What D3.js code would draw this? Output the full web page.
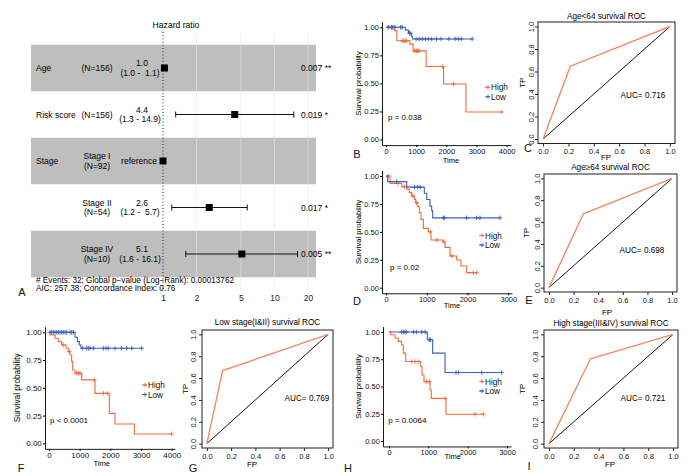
<!DOCTYPE html>
<html><head><meta charset="utf-8">
<script src="https://cdn.jsdelivr.net/npm/d3@7"></script>
<style>body{margin:0;background:#fff}svg{display:block}text{font-family:"Liberation Sans",Arial,sans-serif}</style>
</head><body><svg id="c" width="700" height="476"></svg>
<script>
// ================= DATA =================
// Forest plot (panel A)
const forestVars   = ["Age", "Risk score", "Stage", "", ""];
const forestGroups = [["(N=156)"], ["(N=156)"], ["Stage I", "(N=92)"], ["Stage II", "(N=54)"], ["Stage IV", "(N=10)"]];
const forestHR     = [1.03, 4.4, 1, 2.6, 5.1];
const forestLo     = [1.01, 1.3, null, 1.2, 1.6];
const forestHi     = [1.06, 14.9, null, 5.7, 16.1];
const forestEst    = ["1.0", "4.4", "reference", "2.6", "5.1"];
const forestCI     = ["(1.0 -  1.1)", "(1.3 - 14.9)", "", "(1.2 -  5.7)", "(1.6 - 16.1)"];
const forestP      = ["0.007 **", "0.019 *", "", "0.017 *", "0.005 **"];
const forestTicks  = [1, 2, 5, 10, 20];
const forestNotes  = ["# Events: 32; Global p\u2212value (Log\u2212Rank): 0.00013762", "AIC: 257.38; Concordance Index: 0.76"];

// Kaplan-Meier curves: step times, survival, censor times
const kmB_highT = [0, 278, 361, 794, 897, 1330, 1907, 2650];
const kmB_highS = [1, 0.97, 0.88, 0.85, 0.79, 0.65, 0.494, 0.245];
const kmB_highC = [100, 200, 536, 590, 640, 690, 950, 1000, 1030, 1060, 1100, 1876, 2237, 3835];
const kmB_lowT  = [0, 640, 745, 850, 880];
const kmB_lowS  = [1, 0.975, 0.947, 0.92, 0.896];
const kmB_lowC  = [72, 175, 227, 300, 485, 536, 780, 800, 1000, 1103, 1206, 1309, 1412, 1515, 1670, 1825, 2082, 2289, 2392, 2495, 2856];

const kmD_highT = [0, 98, 384, 507, 572, 630, 695, 728, 777, 818, 859, 916, 1038, 1104, 1390, 1447, 1570, 1733, 1840, 1979];
const kmD_highS = [1, 0.934, 0.904, 0.881, 0.851, 0.821, 0.791, 0.761, 0.725, 0.672, 0.612, 0.531, 0.501, 0.427, 0.412, 0.361, 0.284, 0.248, 0.194, 0.135];
const kmD_highC = [57, 300, 450, 660, 750, 1080, 1250, 1420, 1620, 2142, 2224];
const kmD_lowT  = [0, 40, 507, 940, 1000, 1079, 1120, 1145];
const kmD_lowS  = [1, 0.95, 0.9, 0.845, 0.79, 0.73, 0.69, 0.625];
const kmD_lowC  = [260, 700, 780, 840, 1406, 1431, 1979, 2224, 2306, 2796];

const kmF_highT = [0, 33, 196, 304, 413, 554, 630, 685, 739, 772, 848, 1065, 1500, 1967, 2152, 2783];
const kmF_highS = [1, 0.976, 0.946, 0.916, 0.886, 0.856, 0.826, 0.796, 0.736, 0.661, 0.631, 0.571, 0.45, 0.27, 0.174, 0.084];
const kmF_highC = [467, 660, 902, 960, 1011, 1480, 1772, 1902, 4000];
const kmF_lowT  = [0, 848, 924, 989, 1043];
const kmF_lowS  = [1, 0.955, 0.916, 0.886, 0.856];
const kmF_lowC  = [33, 87, 141, 196, 250, 304, 359, 413, 467, 522, 576, 685, 739, 793, 1098, 1228, 1283, 1337, 1446, 1772, 1859, 1935, 2152, 2370, 2533, 2696, 3022];

const kmH_highT = [0, 42, 153, 237, 322, 364, 424, 805, 839, 890, 1042, 1076, 1449];
const kmH_highS = [1, 0.975, 0.945, 0.914, 0.883, 0.806, 0.729, 0.683, 0.606, 0.545, 0.468, 0.391, 0.246];
const kmH_highC = [576, 661, 746, 958, 1025, 1424, 2186, 2398];
const kmH_lowT  = [0, 975, 1110, 1424];
const kmH_lowS  = [1, 0.929, 0.806, 0.628];
const kmH_lowC  = [322, 364, 407, 449, 619, 703, 831, 915, 1025, 1059, 1703, 1763, 2356, 2864];

const kmGroups  = ["High", "Low"];
const kmPvals   = ["p = 0.038", "p = 0.02", "p < 0.0001", "p = 0.0064"];
const kmYTicks  = [0, 0.25, 0.5, 0.75, 1];
const kmXTicks4 = [0, 1000, 2000, 3000, 4000];
const kmXTicks3 = [0, 1000, 2000, 3000];

// ROC curves
const rocTitles = ["Age<64 survival ROC", "Age\u226564 survival ROC", "Low stage(I&II) survival ROC", "High stage(III&IV) survival ROC"];
const rocFP     = [[0, 0.215, 1], [0, 0.28, 1], [0, 0.13, 1], [0, 0.335, 1]];
const rocTP     = [[0, 0.647, 1], [0, 0.676, 1], [0, 0.668, 1], [0, 0.777, 1]];
const rocAUC    = ["AUC= 0.716", "AUC= 0.698", "AUC= 0.769", "AUC= 0.721"];
const rocDiag   = [0, 1];
const rocTicks  = [0, 0.2, 0.4, 0.6, 0.8, 1.0];

const panelLetters = ["A", "B", "C", "D", "E", "F", "G", "H", "I"];

// ================= DRAW =================
const svg = d3.select("#c");
const HIGH = "#EE6B3D", LOW = "#3D5FB9", ROCC = "#EE8C68";
const FONT = '"Liberation Sans", Arial, sans-serif';

// ---------- Panel A: forest ----------
(function () {
  const g = svg.append("g");
  const x = d3.scaleLog().domain([1, 20]).range([163, 308]);
  const y = d3.scaleBand().domain(d3.range(forestVars.length)).range([44.75, 277.25]);
  const cy = i => y(i) + y.bandwidth() / 2;
  g.selectAll("rect.band").data(d3.range(forestVars.length).filter(i => i % 2 === 0)).join("rect")
    .attr("x", 31).attr("width", 285).attr("y", i => y(i)).attr("height", y.bandwidth()).attr("fill", "#bebebe");
  g.selectAll("line.grid").data(forestTicks.slice(1)).join("line")
    .attr("x1", d => x(d)).attr("x2", d => x(d)).attr("y1", 32).attr("y2", 290)
    .attr("stroke", "#e6e6e6").attr("stroke-opacity", 0.6).attr("stroke-width", 1);
  g.append("line").attr("x1", x(1)).attr("x2", x(1)).attr("y1", 32).attr("y2", 291)
    .attr("stroke", "#222").attr("stroke-width", 1).attr("stroke-dasharray", "1,2.2");
  g.append("text").attr("x", 176).attr("y", 28).attr("text-anchor", "middle").attr("font-size", 8.6).text("Hazard ratio");
  const rows = d3.range(forestVars.length);
  rows.forEach(i => {
    if (forestLo[i] != null) {
      g.append("line").attr("x1", x(forestLo[i])).attr("x2", x(forestHi[i])).attr("y1", cy(i)).attr("y2", cy(i)).attr("stroke", "#111");
      [forestLo[i], forestHi[i]].forEach(v => g.append("line").attr("x1", x(v)).attr("x2", x(v)).attr("y1", cy(i) - 3).attr("y2", cy(i) + 3).attr("stroke", "#111"));
    }
    g.append("rect").attr("x", x(forestHR[i]) - 3.5).attr("y", cy(i) - 3.5).attr("width", 7).attr("height", 7).attr("fill", "#000");
    g.append("text").attr("x", 36).attr("y", cy(i) + 3).attr("font-size", 8.5).text(forestVars[i]);
    const gl = forestGroups[i];
    gl.forEach((t, k) => g.append("text").attr("x", 97).attr("text-anchor", "middle").attr("font-size", 8.5)
      .attr("y", cy(i) + 3 + (gl.length === 2 ? (k === 0 ? -4.7 : 4.7) : 0)).text(t));
    if (forestCI[i]) {
      g.append("text").attr("x", 142).attr("y", cy(i) - 1.7).attr("text-anchor", "middle").attr("font-size", 8.5).text(forestEst[i]);
      g.append("text").attr("x", 140).attr("y", cy(i) + 7.7).attr("text-anchor", "middle").attr("font-size", 8.5).style("white-space", "pre").text(forestCI[i]);
    } else {
      g.append("text").attr("x", 157).attr("y", cy(i) + 3).attr("text-anchor", "end").attr("font-size", 8.5).text(forestEst[i]);
    }
    if (forestP[i]) g.append("text").attr("x", 301).attr("y", cy(i) + 3).attr("font-size", 8.5).text(forestP[i]);
  });
  forestNotes.forEach((t, k) => g.append("text").attr("x", 36).attr("y", 282.5 + k * 8.4).attr("font-size", 8.2).text(t));
  const ax = g.append("g").attr("transform", "translate(0,292.5)")
    .call(d3.axisBottom(x).tickValues(forestTicks).tickFormat(d3.format("d")).tickSize(0).tickPadding(2.5));
  ax.select(".domain").remove();
  ax.selectAll("text").attr("font-size", 8.5).attr("font-family", FONT).attr("fill", "#222");
})();

// ---------- KM panels ----------
function plusPath(cx, cy, r) { return `M${cx - r},${cy}H${cx + r}M${cx},${cy - r}V${cy + r}`; }

function drawKM(cfg, curves, xTicks, pText) {
  const g = svg.append("g");
  const x = d3.scaleLinear().domain([0, cfg.tMax]).range([cfg.x0, cfg.x1]);
  const y = d3.scaleLinear().domain([0, 1]).range([cfg.y0, cfg.y1]);
  const xa = d3.scaleLinear().domain([x.invert(cfg.axL), x.invert(cfg.axR)]).range([cfg.axL, cfg.axR]);
  const ya = d3.scaleLinear().domain([-0.05, 1.05]).range([y(-0.05), y(1.05)]);
  const bx = g.append("g").attr("transform", `translate(0,${ya(-0.05)})`)
    .call(d3.axisBottom(xa).tickValues(xTicks).tickFormat(d3.format("d")).tickSize(2).tickSizeOuter(0).tickPadding(1.2));
  const by = g.append("g").attr("transform", `translate(${cfg.axL},0)`)
    .call(d3.axisLeft(ya).tickValues(kmYTicks).tickFormat(d3.format(".2f")).tickSize(2).tickSizeOuter(0).tickPadding(1.2));
  [bx, by].forEach(a => {
    a.select(".domain").attr("stroke", "#000").attr("stroke-width", 0.9);
    a.selectAll(".tick line").attr("stroke", "#000");
    a.selectAll("text").attr("font-size", cfg.fs).attr("font-family", FONT).attr("fill", "#111");
  });
  g.append("text").attr("x", cfg.timeX).attr("y", cfg.timeY).attr("text-anchor", "middle").attr("font-size", 7.6).text("Time");
  g.append("text").attr("transform", `translate(${cfg.ytX},${(cfg.y0 + cfg.y1) / 2}) rotate(-90)`).attr("text-anchor", "middle")
    .attr("dy", "0.35em").attr("font-size", cfg.fs + 0.2).text("Survival probability");
  const line = d3.line().x(d => x(d[0])).y(d => y(d[1])).curve(d3.curveStepAfter);
  curves.forEach(cv => {
    const pts = cv.t.map((ti, i) => [ti, cv.s[i]]);
    const end = Math.max(d3.max(cv.c), cv.t[cv.t.length - 1]);
    pts.push([end, cv.s[cv.s.length - 1]]);
    g.append("path").attr("d", line(pts)).attr("fill", "none").attr("stroke", cv.color).attr("stroke-width", 1.1);
    const cens = cv.c.map(ci => [ci, cv.s[d3.bisectRight(cv.t, ci) - 1]]);
    g.append("path").attr("d", cens.map(d => plusPath(x(d[0]), y(d[1]), 2.3)).join(""))
      .attr("stroke", cv.color).attr("stroke-width", 0.9).attr("fill", "none");
  });
  curves.forEach((cv, k) => {
    const ly = cfg.legY[k];
    g.append("path").attr("d", `M${cfg.legX - 3},${ly}H${cfg.legX + 2}` + plusPath(cfg.legX, ly, 2.2))
      .attr("stroke", cv.color).attr("stroke-width", 0.9);
    g.append("text").attr("x", cfg.legX + 3).attr("y", ly + 3).attr("font-size", 8.2).attr("fill", "#111").text(kmGroups[k]);
  });
  g.append("text").attr("x", cfg.pX).attr("y", cfg.pY).attr("font-size", 8).text(pText);
}

drawKM({ tMax: 4000, x0: 386, x1: 506.7, axL: 382, axR: 511, y0: 139.5, y1: 27.3, fs: 7.5,
  timeX: 451, timeY: 162.5, ytX: 358, legX: 488, legY: [87.3, 96.7], pX: 388, pY: 120 },
  [{ t: kmB_highT, s: kmB_highS, c: kmB_highC, color: HIGH }, { t: kmB_lowT, s: kmB_lowS, c: kmB_lowC, color: LOW }], kmXTicks4, kmPvals[0]);

drawKM({ tMax: 3000, x0: 386, x1: 508.3, axL: 382, axR: 512, y0: 287.7, y1: 176, fs: 7.5,
  timeX: 452, timeY: 308.4, ytX: 358, legX: 482, legY: [235.5, 245], pX: 390, pY: 270 },
  [{ t: kmD_highT, s: kmD_highS, c: kmD_highC, color: HIGH }, { t: kmD_lowT, s: kmD_lowS, c: kmD_lowC, color: LOW }], kmXTicks3, kmPvals[1]);

drawKM({ tMax: 4000, x0: 49, x1: 171.7, axL: 45, axR: 175, y0: 443.3, y1: 332.3, fs: 8,
  timeX: 101.7, timeY: 466.2, ytX: 17, legX: 145, legY: [385, 394.5], pX: 50, pY: 423 },
  [{ t: kmF_highT, s: kmF_highS, c: kmF_highC, color: HIGH }, { t: kmF_lowT, s: kmF_lowS, c: kmF_lowC, color: LOW }], kmXTicks4, kmPvals[2]);

drawKM({ tMax: 3000, x0: 389, x1: 507, axL: 383, axR: 511, y0: 441, y1: 332, fs: 7.5,
  timeX: 452.7, timeY: 459.4, ytX: 358, legX: 482, legY: [381.5, 391], pX: 388.3, pY: 423 },
  [{ t: kmH_highT, s: kmH_highS, c: kmH_highC, color: HIGH }, { t: kmH_lowT, s: kmH_lowS, c: kmH_lowC, color: LOW }], kmXTicks3, kmPvals[3]);

// ---------- ROC panels ----------
function drawROC(cfg, k) {
  const g = svg.append("g");
  const x = d3.scaleLinear().domain([-0.04, 1.04]).range([cfg.L, cfg.R]);
  const y = d3.scaleLinear().domain([-0.04, 1.04]).range([cfg.B, cfg.T]);
  const ax = g.append("g").attr("transform", `translate(0,${cfg.B})`)
    .call(d3.axisBottom(x).tickValues(rocTicks).tickFormat(d3.format(".1f")).tickSize(3).tickPadding(2.2));
  const ay = g.append("g").attr("transform", `translate(${cfg.L},0)`)
    .call(d3.axisLeft(y).tickValues(rocTicks).tickFormat(d3.format(".1f")).tickSize(3));
  [ax, ay].forEach(a => {
    a.select(".domain").remove();
    a.selectAll(".tick line").attr("stroke", "#222");
    a.selectAll("text").attr("font-size", 7.5).attr("font-family", FONT).attr("fill", "#111");
  });
  ay.selectAll("text").attr("transform", "rotate(-90)").attr("x", 0).attr("y", -cfg.labOff).attr("dy", "0")
    .attr("text-anchor", "middle");
  const line = d3.line().x(d => x(d[0])).y(d => y(d[1]));
  g.append("path").attr("d", line(rocDiag.map(v => [v, v]))).attr("stroke", "#111").attr("stroke-width", 1).attr("fill", "none");
  g.append("path").attr("d", line(rocFP[k].map((v, i) => [v, rocTP[k][i]]))).attr("stroke", ROCC).attr("stroke-width", 1.4).attr("fill", "none");
  g.append("rect").attr("x", cfg.L).attr("y", cfg.T).attr("width", cfg.R - cfg.L).attr("height", cfg.B - cfg.T)
    .attr("fill", "none").attr("stroke", "#222").attr("stroke-width", 1);
  g.append("text").attr("x", (cfg.L + cfg.R) / 2).attr("y", cfg.titleY).attr("text-anchor", "middle").attr("font-size", 8.2).text(rocTitles[k]);
  g.append("text").attr("x", cfg.aucX).attr("y", cfg.aucY).attr("text-anchor", "middle").attr("font-size", 8.2).text(rocAUC[k]);
  g.append("text").attr("x", cfg.fpX).attr("y", cfg.fpY).attr("text-anchor", "middle").attr("font-size", 8).text("FP");
  g.append("text").attr("transform", `translate(${cfg.tpX},${(cfg.T + cfg.B) / 2}) rotate(-90)`).attr("text-anchor", "middle")
    .attr("dy", "0.35em").attr("font-size", 8).text("TP");
}
drawROC({ L: 538, R: 675, T: 22, B: 143.5, titleY: 19, aucX: 643, aucY: 98, fpX: 606, fpY: 160, tpX: 522, labOff: 4.5 }, 0);
drawROC({ L: 544, R: 677, T: 174, B: 292, titleY: 170, aucX: 642, aucY: 253, fpX: 607, fpY: 315, tpX: 526, labOff: 4.5 }, 1);
drawROC({ L: 202, R: 333, T: 330, B: 448, titleY: 324.5, aucX: 307, aucY: 401, fpX: 252, fpY: 467, tpX: 185, labOff: 6 }, 2);
drawROC({ L: 544, R: 678, T: 330, B: 448, titleY: 325.7, aucX: 643, aucY: 401, fpX: 610, fpY: 467, tpX: 522, labOff: 6.5 }, 3);

// ---------- panel letters ----------
const letterPos = [[22, 296], [357, 158], [528, 152], [357, 305], [529, 304], [21, 472], [193, 472], [348, 472], [529, 470]];
panelLetters.forEach((L, i) => svg.append("text").attr("x", letterPos[i][0]).attr("y", letterPos[i][1])
  .attr("text-anchor", "middle").attr("font-size", 11).attr("fill", "#111").text(L));
</script></body></html>
